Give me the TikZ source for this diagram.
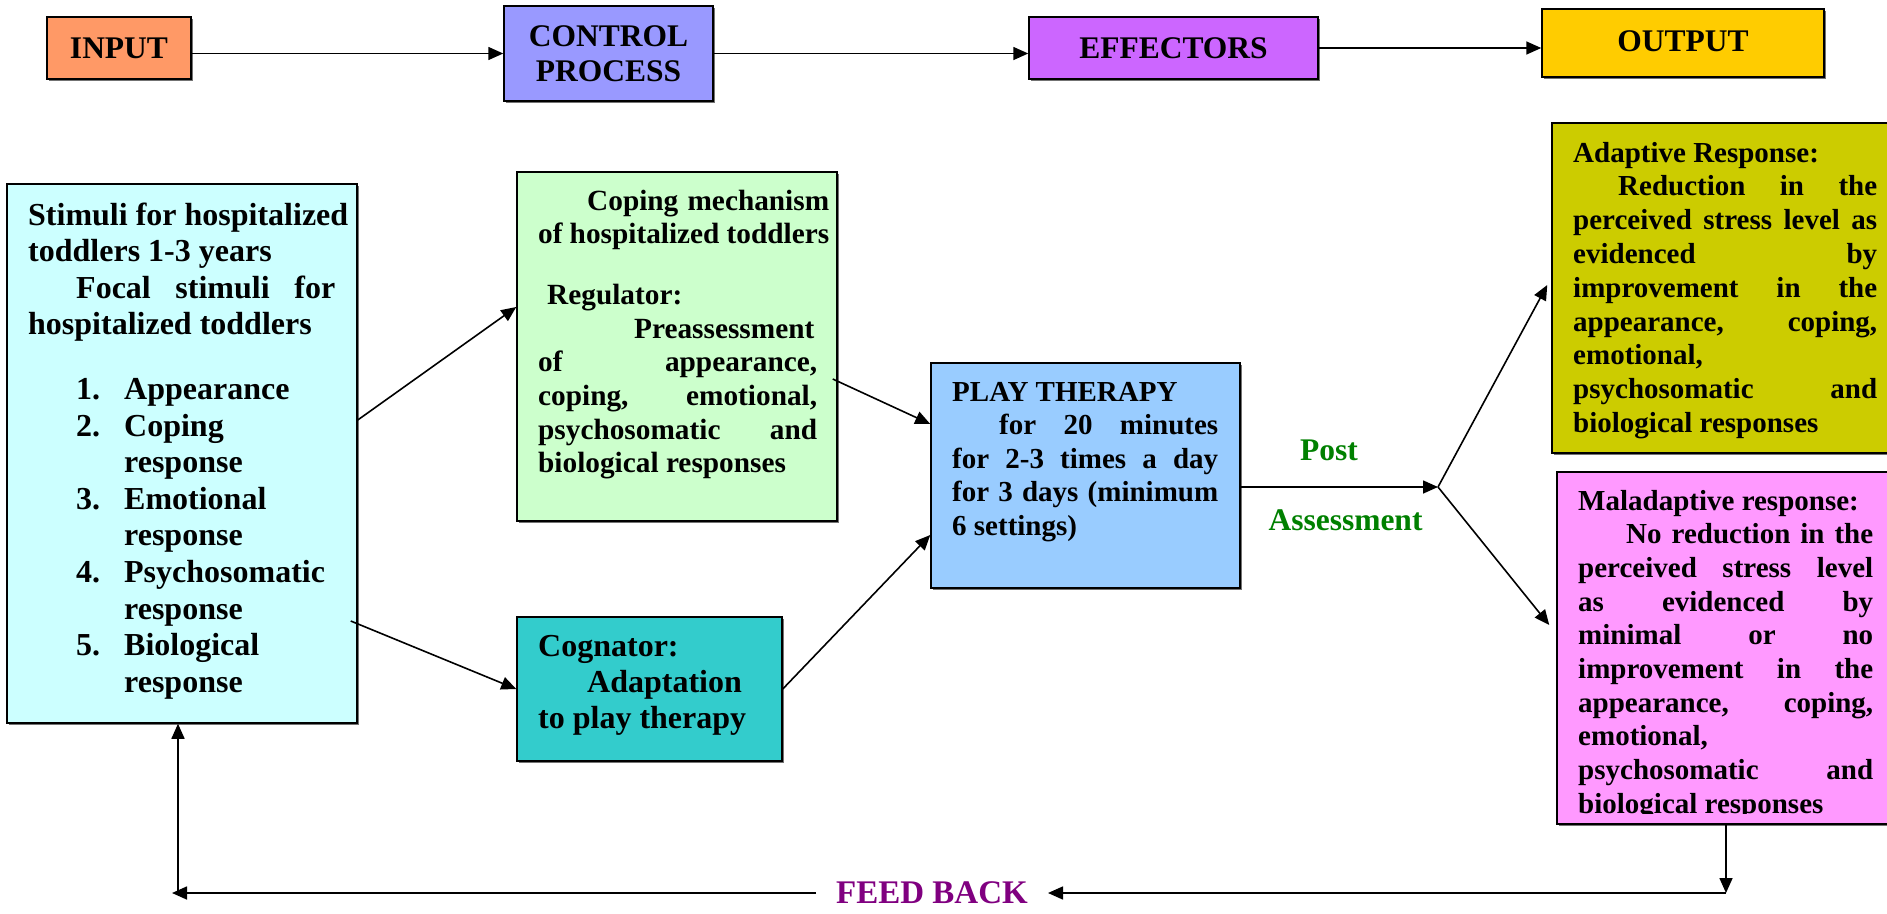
\documentclass[tikz,border=0pt]{standalone}
\usepackage{fontspec}
\setmainfont{Liberation Serif}
\usetikzlibrary{arrows.meta,shadows}
\definecolor{cInput}{HTML}{FF9966}
\definecolor{cControl}{HTML}{9999FF}
\definecolor{cEff}{HTML}{CC66FF}
\definecolor{cOut}{HTML}{FFCC00}
\definecolor{cStim}{HTML}{CCFFFF}
\definecolor{cCope}{HTML}{CCFFCC}
\definecolor{cCog}{HTML}{33CCCC}
\definecolor{cPlay}{HTML}{99CCFF}
\definecolor{cAdapt}{HTML}{CCCC00}
\definecolor{cMal}{HTML}{FF99FF}
\definecolor{cGreen}{HTML}{008000}
\definecolor{cPurple}{HTML}{800080}
\newcommand{\JL}[2][0pt]{\hbox to\hsize{\hskip#1\relax #2}}
\newcommand{\LL}[2][0pt]{\hbox to\hsize{\hskip#1\relax #2\hfil}}
\newcommand{\NL}[1]{\hbox{#1}}
\newcommand{\IT}[2]{\hbox{\hskip48pt\hbox to48pt{#1\hfil}#2}}
\tikzset{
  box/.style={draw, line width=1.5pt, inner sep=0pt,
    drop shadow={shadow xshift=2pt, shadow yshift=-2pt, fill=black!55, opacity=1}},
  txt/.style={inner sep=0pt, anchor=base west},
  arr/.style={line width=1.6pt, -{Triangle[length=15pt,width=13pt]}},
  ln/.style={line width=1.6pt},
  fA/.style={font=\bfseries\fontsize{31.5pt}{35pt}\selectfont},
}
\begin{document}
\begin{tikzpicture}[x=1pt,y=-1pt]
\useasboundingbox (0,0) rectangle (1887,913);
% top row
\node[box, fill=cInput, minimum width=144pt, minimum height=62pt, fA] (in) at (119,48) {INPUT};
\node[box, fill=cControl, minimum width=209pt, minimum height=95pt, fA, align=center] (ctrl) at (608.5,53.5) {CONTROL\\PROCESS};
\node[box, fill=cEff, minimum width=289pt, minimum height=62pt, fA] (eff) at (1173.5,48) {EFFECTORS};
\node[box, fill=cOut, minimum width=282pt, minimum height=68pt, fA] (out) at (1683,43) {\raisebox{4pt}{OUTPUT}};
\draw[arr] (ctrl.west -| in.east) -- (ctrl.west);
\draw[arr] (ctrl.east) -- (ctrl.east -| eff.west);
\draw[arr] (eff.east) -- (eff.east -| out.west);
% main boxes
\node[box, fill=cStim, minimum width=350pt, minimum height=539pt] (stim) at (182,453.5) {};
\node[box, fill=cCope, minimum width=320pt, minimum height=349pt] (cop) at (677,346.5) {};
\node[box, fill=cCog, minimum width=265pt, minimum height=144pt] (cog) at (649.5,689) {};
\node[box, fill=cPlay, minimum width=309pt, minimum height=225pt] (play) at (1085.5,475.5) {};
\node[box, fill=cAdapt, minimum width=343pt, minimum height=330pt] (adapt) at (1723.5,288) {};
\node[box, fill=cMal, minimum width=338pt, minimum height=352pt] (mal) at (1726,648) {};
% texts
\node[txt, font=\bfseries\fontsize{32pt}{36.6pt}\selectfont] (stimT) at (28,225) {\vtop{\hsize=307pt
 \NL{Stimuli for hospitalized}
 \LL{toddlers 1-3 years}
 \JL[48pt]{Focal stimuli for}
 \LL{hospitalized toddlers}
 \vskip28pt
 \IT{1.}{Appearance}
 \IT{2.}{Coping}
 \IT{}{response}
 \IT{3.}{Emotional}
 \IT{}{response}
 \IT{4.}{Psychosomatic}
 \IT{}{response}
 \IT{5.}{Biological}
 \IT{}{response}}};
\node[txt, font=\bfseries\fontsize{29.3pt}{33.7pt}\selectfont] (copT) at (538,210) {\vtop{\hsize=291pt
 \JL[49pt]{Coping mechanism}
 \LL{of hospitalized toddlers}
 \vskip27pt
 \LL[9pt]{Regulator:}
 \hsize=279pt
 \LL[96pt]{Preassessment}
 \JL{of appearance,}
 \JL{coping, emotional,}
 \JL{psychosomatic and}
 \LL{biological responses}}};
\node[txt, font=\bfseries\fontsize{32pt}{36pt}\selectfont] (cogT) at (538,656) {\vtop{\hsize=220pt
 \LL{Cognator:}
 \LL[49pt]{Adaptation}
 \LL{to play therapy}}};
\node[txt, font=\bfseries\fontsize{29pt}{33.5pt}\selectfont] (playT) at (952,401) {\vtop{\hsize=266pt
 \LL{PLAY THERAPY}
 \JL[47pt]{for 20 minutes}
 \JL{for 2-3 times a day}
 \JL{for 3 days (minimum}
 \LL{6 settings)}}};
\node[txt, font=\bfseries\fontsize{29pt}{33.8pt}\selectfont] (adaptT) at (1573,162) {\vtop{\hsize=304pt
 \LL{Adaptive Response:}
 \JL[45pt]{Reduction in the}
 \JL{perceived stress level as}
 \JL{evidenced by}
 \JL{improvement in the}
 \JL{appearance, coping,}
 \LL{emotional,}
 \JL{psychosomatic and}
 \LL{biological responses}}};
\begin{scope}
\clip (mal.north west) rectangle ([yshift=11pt]mal.south east);
\node[txt, font=\bfseries\fontsize{29pt}{33.7pt}\selectfont] (malT) at (1578,510) {\vtop{\hsize=295pt
 \LL{Maladaptive response:}
 \JL[48pt]{No reduction in the}
 \JL{perceived stress level}
 \JL{as evidenced by}
 \JL{minimal or no}
 \JL{improvement in the}
 \JL{appearance, coping,}
 \LL{emotional,}
 \JL{psychosomatic and}
 \LL{biological responses}}};
\end{scope}
\node[inner sep=0pt, anchor=base, text=cGreen, fA] (post) at (1329,460) {Post};
\node[inner sep=0pt, anchor=base, text=cGreen, fA] (assess) at (1345.5,530) {Assessment};
\node[inner ysep=0pt, inner xsep=20pt, text=cPurple, font=\bfseries\fontsize{33pt}{36pt}\selectfont] (fb) at (932,893) {FEED BACK};
% coordinates
\coordinate (J) at (1438,487);
\coordinate (C) at (1726,893);
\coordinate (L) at (178,893);
\coordinate (Lt) at (172,893);
% connectors
\draw[arr] ([yshift=33.5pt]stim.east) -- ([yshift=39.5pt]cop.west);
\draw[arr] ([xshift=-7pt,yshift=-167.5pt]stim.east) -- (cog.west);
\draw[arr] ([xshift=-5pt,yshift=-32.5pt]cop.east) -- ([yshift=51.5pt]play.west);
\draw[arr] (cog.east) -- ([yshift=-59.5pt]play.west);
\draw[arr] ([yshift=-11.5pt]play.east) -- (J);
\draw[arr] (J) -- ([xshift=-4pt,yshift=3pt]adapt.west);
\draw[arr] (J) -- ([xshift=-7pt,yshift=23pt]mal.west);
\draw[arr] (mal.south) -- (C);
\draw[arr] (C) -- (fb.east);
\draw[arr] (fb.west) -- (Lt);
\draw[arr] (L) -- (L |- stim.south);
\end{tikzpicture}
\end{document}
